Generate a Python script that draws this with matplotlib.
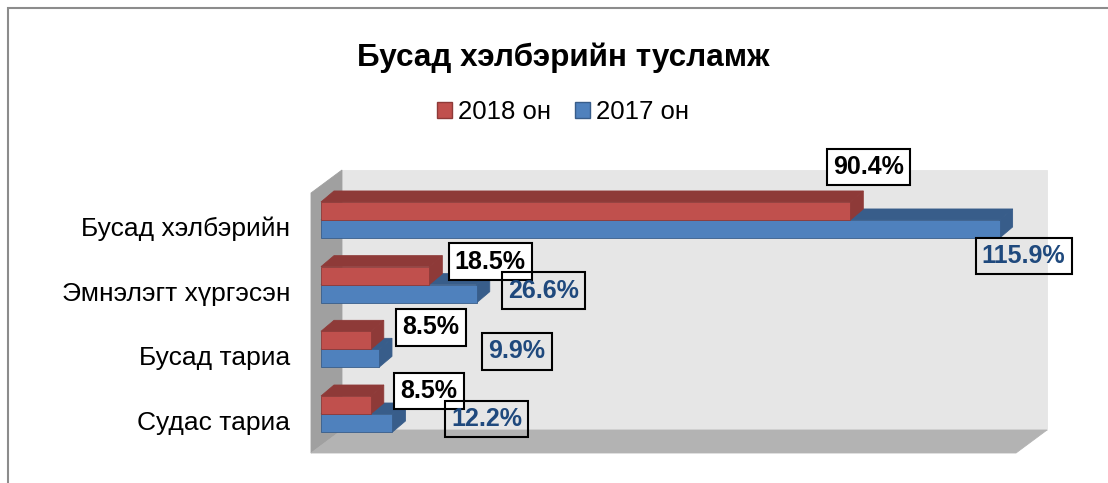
import matplotlib.pyplot as plt
from matplotlib.patches import Polygon, Rectangle, Patch

plt.rcParams['font.family'] = ['Liberation Sans', 'DejaVu Sans']

categories = ['Судас тариа', 'Бусад тариа', 'Эмнэлэгт хүргэсэн', 'Бусад хэлбэрийн']
vals_2018 = [8.5, 8.5, 18.5, 90.4]
vals_2017 = [12.2, 9.9, 26.6, 115.9]
series_names = ['2018 он', '2017 он']
title = 'Бусад хэлбэрийн тусламж'

# hand-placed label offsets (pixels) from bar end / bar middle, as in the original
off_2018 = [(58, 14), (60, 13), (61, 14), (18, 44)]
off_2017 = [(94, 4), (138, 7), (67, 3), (24, -27)]

red, red_dk = '#C0504D', '#8E3A38'
blue, blue_dk = '#4F81BD', '#385D8A'

W, H = 1108, 483
fig = plt.figure(figsize=(W / 100, H / 100), dpi=100)

# front plane of the 3d box
ax = fig.add_axes([311 / W, 1 - 453 / H, (1016 - 311) / W, (453 - 193) / H])
xmin, xmax = -1.71, 118.7
ymin, ymax = -0.603, 3.417
ax.set_xlim(xmin, xmax)
ax.set_ylim(ymin, ymax)
sx = (1016 - 311) / (xmax - xmin)   # px per unit
sy = (453 - 193) / (ymax - ymin)

# depth offsets
dxw, dyw = 31 / sx, 23 / sy
dxb, dyb = 13 / sx, 11 / sy
bh = 18 / sy


def poly(pts, fc, ec=None, z=1, lw=0.6):
    ax.add_patch(Polygon(pts, closed=True, fc=fc, ec=ec if ec else fc, lw=lw,
                         zorder=z, clip_on=False))


# walls
poly([(xmin + dxw, ymin + dyw), (xmax + dxw, ymin + dyw), (xmax + dxw, ymax + dyw),
      (xmin + dxw, ymax + dyw)], '#E6E6E6', z=0)
poly([(xmin, ymin), (xmin, ymax), (xmin + dxw, ymax + dyw), (xmin + dxw, ymin + dyw)],
     '#A0A0A0', z=0.5)
poly([(xmin, ymin), (xmax, ymin), (xmax + dxw, ymin + dyw), (xmin + dxw, ymin + dyw)],
     '#B3B3B3', z=0.5)


def bar3d(y0, v, front, dark):
    y1 = y0 + bh
    poly([(0, y1), (v, y1), (v + dxb, y1 + dyb), (dxb, y1 + dyb)], dark, ec=dark)
    poly([(v, y0), (v + dxb, y0 + dyb), (v + dxb, y1 + dyb), (v, y1)], dark, ec=dark)
    poly([(0, y0), (v, y0), (v, y1), (0, y1)], front, ec=dark)


for i in range(len(categories)):
    bar3d(i - bh, vals_2017[i], blue, blue_dk)
    bar3d(i, vals_2018[i], red, red_dk)

for i in range(len(categories)):
    for vals, offs, y, col, fc in [(vals_2018, off_2018, i + bh / 2, 'black', 'white'),
                                   (vals_2017, off_2017, i - bh / 2, '#1F497D', 'none')]:
        ax.annotate(f'{vals[i]:.1f}%', xy=(vals[i], y), xytext=offs[i],
                    textcoords='offset pixels', ha='center', va='center',
                    fontsize=18, fontweight='bold', color=col, zorder=5,
                    annotation_clip=False,
                    bbox=dict(boxstyle='square,pad=0.25', fc=fc, ec='black', lw=1.5))

ax.set_xticks([])
ax.set_yticks([i - 0.1 for i in range(len(categories))], categories, fontsize=19)
ax.tick_params(axis='y', length=0, pad=15)
for s in ax.spines.values():
    s.set_visible(False)
ax.patch.set_visible(False)

# chart frame
fig.patches.append(Rectangle((8 / W, -0.1), 1.2, 1 - 8 / H + 0.1, transform=fig.transFigure,
                             fill=False, ec='#8C8C8C', lw=1.5))

fig.text(563 / W, 1 - 66 / H, title, ha='center', va='baseline', fontsize=22.7, fontweight='bold')

handles = [Patch(fc=red, ec=red_dk), Patch(fc=blue, ec=blue_dk)]
fig.legend(handles, series_names, loc='center', bbox_to_anchor=(563 / W, 1 - 112 / H), ncol=2,
           frameon=False, fontsize=18.5, handlelength=0.6, handleheight=0.6,
           handletextpad=0.25, columnspacing=0.9)

fig.savefig('out.png', dpi=100)
